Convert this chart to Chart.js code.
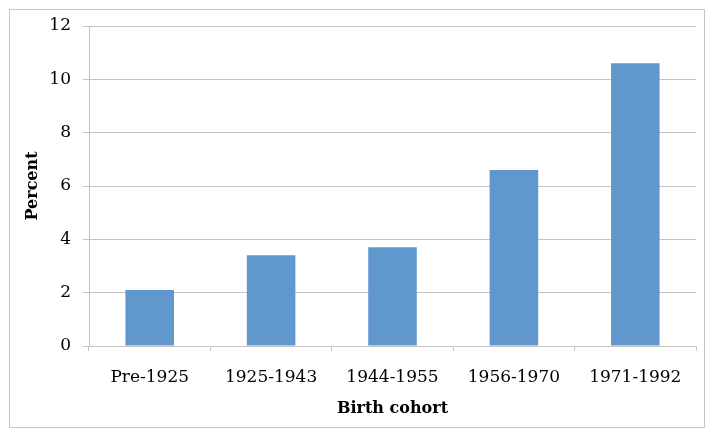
<!DOCTYPE html>
<html>
<head>
<meta charset="utf-8">
<script src="https://cdn.jsdelivr.net/npm/chart.js@4/dist/chart.umd.min.js"></script>
<style>
  html, body { margin: 0; padding: 0; background: #fff; }
  #wrap { position: relative; width: 714px; height: 436px; }
  #frame { position: absolute; left: 9px; top: 9px; width: 696px; height: 419px; border: 1px solid #c6c6c6; box-sizing: border-box; pointer-events: none; }
  canvas { position: absolute; left: 0; top: 0; }
</style>
</head>
<body>
<div id="wrap">
  <canvas id="chart" width="714" height="436"></canvas>
  <div id="frame"></div>
</div>
<script>
// cohort labels and the share (percent) per cohort
const cohorts = ["Pre-1925", "1925-1943", "1944-1955", "1956-1970", "1971-1992"];
const percentValues = [2.1, 3.4, 3.7, 6.6, 10.6];
const yTicks = [0, 2, 4, 6, 8, 10, 12];

const FONT = "'DejaVu Serif', 'Liberation Serif', serif";
const GRID = "#c4c4c4";

document.addEventListener("DOMContentLoaded", () => {
  const ctx = document.getElementById("chart").getContext("2d");
  new Chart(ctx, {
    type: "bar",
    data: {
      labels: cohorts,
      datasets: [
        {
          label: "Percent",
          data: percentValues,
          backgroundColor: "#6097cd",
          borderWidth: 0,
          barPercentage: 0.4,
          categoryPercentage: 1.0,
        },
      ],
    },
    options: {
      responsive: false,
      animation: false,
      layout: { padding: { left: 23, right: 18, top: 26, bottom: 18 } },
      plugins: {
        legend: { display: false },
        tooltip: { enabled: false },
      },
      scales: {
        x: {
          grid: {
            drawOnChartArea: false,
            drawTicks: true,
            tickLength: 5,
            color: GRID,
            offset: true,
          },
          border: { color: GRID },
          ticks: {
            color: "#000",
            font: { family: FONT, size: 17 },
            padding: 16,
            maxRotation: 0,
          },
          title: {
            display: true,
            text: "Birth cohort",
            color: "#000",
            font: { family: FONT, size: 16, weight: "bold" },
            padding: { top: 4, bottom: 0 },
          },
          afterFit: (scale) => { scale.height = 436 - 346 - 18; },
        },
        y: {
          min: 0,
          max: 12,
          afterBuildTicks: (scale) => { scale.ticks = yTicks.map((v) => ({ value: v })); },
          grid: { color: GRID, tickLength: 6 },
          border: { color: GRID },
          ticks: {
            color: "#000",
            font: { family: FONT, size: 17 },
            padding: 12,
          },
          title: {
            display: true,
            text: "Percent",
            color: "#000",
            font: { family: FONT, size: 16, weight: "bold" },
            padding: { top: 0, bottom: 8 },
          },
          afterFit: (scale) => { scale.width = 89 - 23; },
        },
      },
    },
  });
});
</script>
</body>
</html>
